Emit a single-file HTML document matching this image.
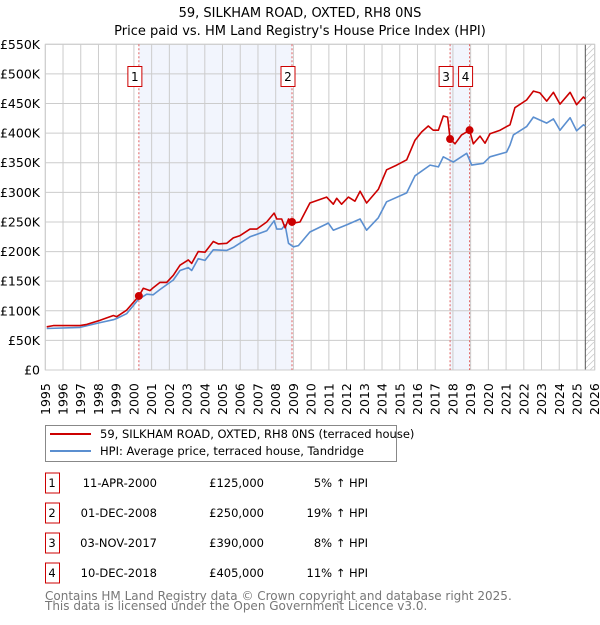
<!DOCTYPE html>
<html><head><meta charset="utf-8"><style>
body{margin:0;background:#fff;font-family:"Liberation Sans","DejaVu Sans",sans-serif;}
svg text{font-family:"DejaVu Sans","Liberation Sans",sans-serif;}
</style></head><body>
<svg id="c" width="600" height="620" xmlns="http://www.w3.org/2000/svg">
<defs><pattern id="hatch" width="6" height="6" patternUnits="userSpaceOnUse"><path d="M0,6 L6,0" stroke="#ccc" stroke-width="0.8"/></pattern></defs>
<text x="300" y="17" text-anchor="middle" font-size="13">59, SILKHAM ROAD, OXTED, RH8 0NS</text>
<text x="300" y="35" text-anchor="middle" font-size="13">Price paid vs. HM Land Registry's House Price Index (HPI)</text>
<g id="plot"></g>
<g>
<rect x="45.5" y="425.5" width="351" height="36" fill="#fff" stroke="#888"/>
<line x1="50" y1="434" x2="91" y2="434" stroke="#cc0000" stroke-width="2"/>
<text x="100" y="438" font-size="11.5">59, SILKHAM ROAD, OXTED, RH8 0NS (terraced house)</text>
<line x1="50" y1="451" x2="91" y2="451" stroke="#5b8fd0" stroke-width="2"/>
<text x="100" y="455" font-size="11.5">HPI: Average price, terraced house, Tandridge</text>
</g>
<g id="table" font-size="11.5"></g>
<text x="45" y="600" font-size="12" fill="#777">Contains HM Land Registry data © Crown copyright and database right 2025.</text>
<text x="45" y="610" font-size="12" fill="#777">This data is licensed under the Open Government Licence v3.0.</text>
</svg>
<script>
const hpiYears=[1995.08,1996.96,1998.09,1998.84,1999.03,1999.59,2000.25,2000.72,2001.09,2001.47,2002.22,2002.6,2003.07,2003.26,2003.63,2004.01,2004.48,2005.24,2005.61,2006.55,2007.49,2007.91,2008.06,2008.34,2008.53,2008.72,2009.0,2009.28,2009.93,2010.97,2011.25,2012.0,2012.76,2013.13,2013.79,2014.26,2015.39,2015.86,2016.71,2017.18,2017.46,2018.02,2018.78,2019.06,2019.72,2020.09,2021.03,2021.22,2021.41,2022.16,2022.54,2023.29,2023.67,2024.04,2024.61,2024.98,2025.36,2025.47];
const hpiValues=[70,72,80,85,87,95,119,128,127,136,152,168,173,168,188,185,203,202,207,225,235,252,238,238,245,214,208,210,233,248,236,245,255,236,257,284,299,328,346,343,360,351,366,346,349,360,368,380,397,411,427,417,424,405,426,404,414,412];
const priceYears=[1995.08,1995.45,1996.96,1997.34,1998.09,1998.84,1999.03,1999.59,2000.28,2000.53,2000.91,2001.09,2001.47,2001.85,2002.22,2002.6,2003.07,2003.26,2003.63,2004.01,2004.48,2004.76,2005.24,2005.61,2005.99,2006.55,2006.93,2007.49,2007.91,2008.06,2008.34,2008.53,2008.72,2008.92,2009.0,2009.37,2009.93,2010.87,2011.25,2011.44,2011.72,2012.1,2012.47,2012.76,2013.13,2013.79,2014.26,2014.83,2015.39,2015.86,2016.24,2016.61,2016.89,2017.18,2017.46,2017.7,2017.84,2018.12,2018.49,2018.94,2019.15,2019.53,2019.81,2020.09,2020.66,2021.03,2021.22,2021.5,2022.16,2022.54,2022.91,2023.29,2023.67,2024.04,2024.61,2024.98,2025.36,2025.47];
const priceValues=[73,75,75,77,84,92,90,101,125,138,134,139,148,148,160,177,186,180,200,199,217,213,214,223,227,238,238,250,265,255,255,240,255,250,248,250,282,292,280,290,280,292,285,302,282,305,338,346,355,388,402,412,405,405,429,427,390,382,397,405,382,395,383,399,405,411,414,443,456,471,468,454,469,449,469,448,461,458];
const saleYears=[2000.28,2008.92,2017.84,2018.94];
const saleLabels=["1","2","3","4"];
const saleDates=["11-APR-2000","01-DEC-2008","03-NOV-2017","10-DEC-2018"];
const salePrices=["£125,000","£250,000","£390,000","£405,000"];
const saleHpi=["5% ↑ HPI","19% ↑ HPI","8% ↑ HPI","11% ↑ HPI"];
const yTickValues=[0,50,100,150,200,250,300,350,400,450,500,550];
const yTickLabels=["£0","£50K","£100K","£150K","£200K","£250K","£300K","£350K","£400K","£450K","£500K","£550K"];
const xTickYears=[1995,1996,1997,1998,1999,2000,2001,2002,2003,2004,2005,2006,2007,2008,2009,2010,2011,2012,2013,2014,2015,2016,2017,2018,2019,2020,2021,2022,2023,2024,2025,2026];
const dataEnd=2025.47;

const NS="http://www.w3.org/2000/svg";
const X0=45.3,X1=594.7,Y0=370,Y1=44.3;
const xs=y=>X0+(y-1995)/31*(X1-X0);
const ys=v=>Y0-v/550*(Y0-Y1);
const plot=document.getElementById('plot');
function mk(tag,attrs,parent){const e=document.createElementNS(NS,tag);for(const k in attrs)e.setAttribute(k,attrs[k]);(parent||plot).appendChild(e);return e;}
let r=mk('rect',{x:xs(saleYears[0]),y:Y1,width:xs(saleYears[1])-xs(saleYears[0]),height:Y0-Y1,fill:'#f2f5fd'});


r=mk('rect',{x:xs(saleYears[2]),y:Y1,width:xs(saleYears[3])-xs(saleYears[2]),height:Y0-Y1,fill:'#f2f5fd'});


yTickValues.forEach((v,i)=>{
 const l=mk('line',{x1:X0,x2:X1,y1:ys(v),y2:ys(v),stroke:'#ccc','stroke-width':1});
 
 
 const t=mk('text',{x:40,y:ys(v)+4.5,'text-anchor':'end','font-size':12.5});
 t.textContent=yTickLabels[i];
 
 
});
xTickYears.forEach(yr=>{
 const l=mk('line',{x1:xs(yr),x2:xs(yr),y1:Y1,y2:Y0,stroke:'#ccc','stroke-width':1});
 
 
 const t=mk('text',{x:0,y:0,'font-size':12.5,transform:`translate(${xs(yr)+4.5},${Y0+45}) rotate(-90)`});
 t.textContent=yr;
 
 
});
r=mk('rect',{x:xs(dataEnd),y:Y1,width:X1-xs(dataEnd),height:Y0-Y1,fill:'url(#hatch)'});


let l=mk('line',{x1:xs(dataEnd),x2:xs(dataEnd),y1:Y1,y2:Y0,stroke:'#555','stroke-width':1});


r=mk('rect',{x:X0,y:Y1,width:X1-X0,height:Y0-Y1,fill:'none',stroke:'#ccc'});


saleYears.forEach((yr,i)=>{
 const d=mk('line',{x1:xs(yr),x2:xs(yr),y1:Y1,y2:Y0,stroke:'#e06060','stroke-width':1,'stroke-dasharray':'2,2'});
 
 
 const cx=xs(yr)-4;
 const b=mk('rect',{x:cx-7,y:66.5,width:14,height:20,fill:'#fff',stroke:'#cc0000'});
 
 
 const t=mk('text',{x:cx,y:81,'text-anchor':'middle','font-size':12});
 t.textContent=saleLabels[i];
 
 
});
function path(xa,va,col,name){
 const d=xa.map((x,i)=>(i?'L':'M')+xs(x).toFixed(1)+','+ys(va[i]).toFixed(1)).join('');
 const p=mk('path',{d:d,fill:'none',stroke:col,'stroke-width':1.6,'stroke-linejoin':'round'});
 
 
}
path(hpiYears,hpiValues,'#5b8fd0','hpi-line');
path(priceYears,priceValues,'#cc0000','price-line');
saleYears.forEach((yr,i)=>{
 const idx=priceYears.indexOf(yr);
 const v=idx>=0?priceValues[idx]:parseInt(salePrices[i].replace(/[£,]/g,''))/1000;
 const c=mk('circle',{cx:xs(yr),cy:ys(v),r:4,fill:'#cc0000'});
 
 
});
const tb=document.getElementById('table');
saleLabels.forEach((s,i)=>{
 const y=483+i*30;
 const b=mk('rect',{x:45.5,y:y-10,width:14,height:20,fill:'#fff',stroke:'#cc0000'},tb);
 
 
 const cells=[[52,s,'middle'],[157,saleDates[i],'end'],[264,salePrices[i],'end'],[368,saleHpi[i],'end']];
 cells.forEach((c,j)=>{
  const t=mk('text',{x:c[0],y:y+4,'text-anchor':c[2]},tb);
  t.textContent=c[1];
  
  
 });
});
</script>
</body></html>
